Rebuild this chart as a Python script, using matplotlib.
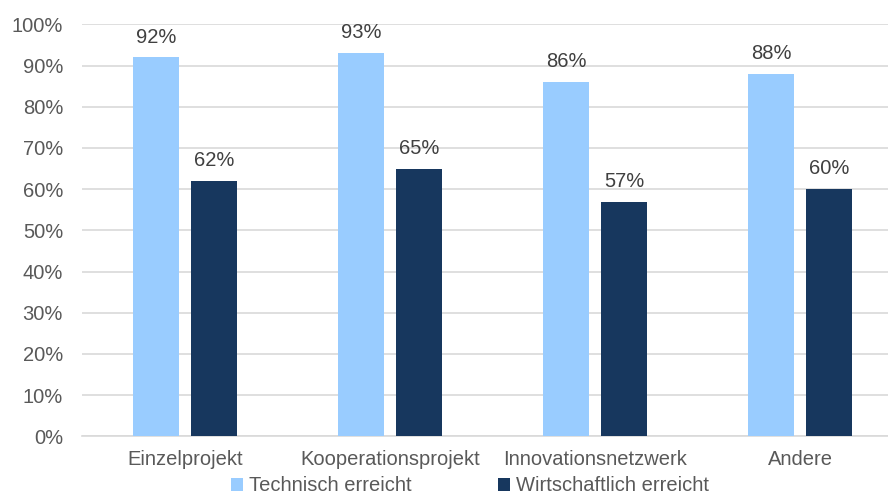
import matplotlib.pyplot as plt
import numpy as np

plt.rcParams['font.family'] = ['Liberation Sans', 'DejaVu Sans']

categories = ["Einzelprojekt", "Kooperationsprojekt", "Innovationsnetzwerk", "Andere"]
technisch = [92, 93, 86, 88]
wirtschaftlich = [62, 65, 57, 60]
series_names = ["Technisch erreicht", "Wirtschaftlich erreicht"]
colors = ["#99CCFF", "#17375E"]
text_color = "#595959"
fs = 14.5

fig = plt.figure(figsize=(8.88, 4.97), dpi=100)
# the plot area runs slightly past the right edge of the canvas
ax = fig.add_axes([0.0929, 0.122, 0.9234, 0.829])

x = np.arange(len(categories))
w = 0.224
off = 0.141
b1 = ax.bar(x - off, technisch, w, color=colors[0], label=series_names[0], zorder=3)
b2 = ax.bar(x + off, wirtschaftlich, w, color=colors[1], label=series_names[1], zorder=3)

for bars, vals in ((b1, technisch), (b2, wirtschaftlich)):
    for rect, v in zip(bars, vals):
        ax.text(rect.get_x() + rect.get_width() / 2, v + 2.6, f"{v}%",
                ha="center", va="bottom", fontsize=fs, color="#404040")

ax.set_ylim(0, 100)
ax.set_xlim(-0.5, len(categories) - 0.5)
ax.set_yticks(range(0, 101, 10))
ax.set_yticklabels([f"{t}%" for t in range(0, 101, 10)])
ax.set_xticks(x)
ax.set_xticklabels(categories)
ax.tick_params(axis="both", length=0, labelsize=fs, colors=text_color)
ax.tick_params(axis="x", pad=10)
ax.tick_params(axis="y", pad=14)
ax.yaxis.grid(True, color="#D9D9D9", linewidth=1.2, zorder=0)
for s in ("top", "right", "left"):
    ax.spines[s].set_visible(False)
ax.spines["bottom"].set_color("#D9D9D9")
ax.spines["bottom"].set_linewidth(1.2)

fig.legend(handles=[b1, b2], loc="lower center", ncol=2, frameon=False,
           bbox_to_anchor=(0.529, -0.033), fontsize=fs, labelcolor=text_color,
           handlelength=0.6, handleheight=0.6, handletextpad=0.3, columnspacing=4.3)

fig.savefig("out.png", dpi=100)
